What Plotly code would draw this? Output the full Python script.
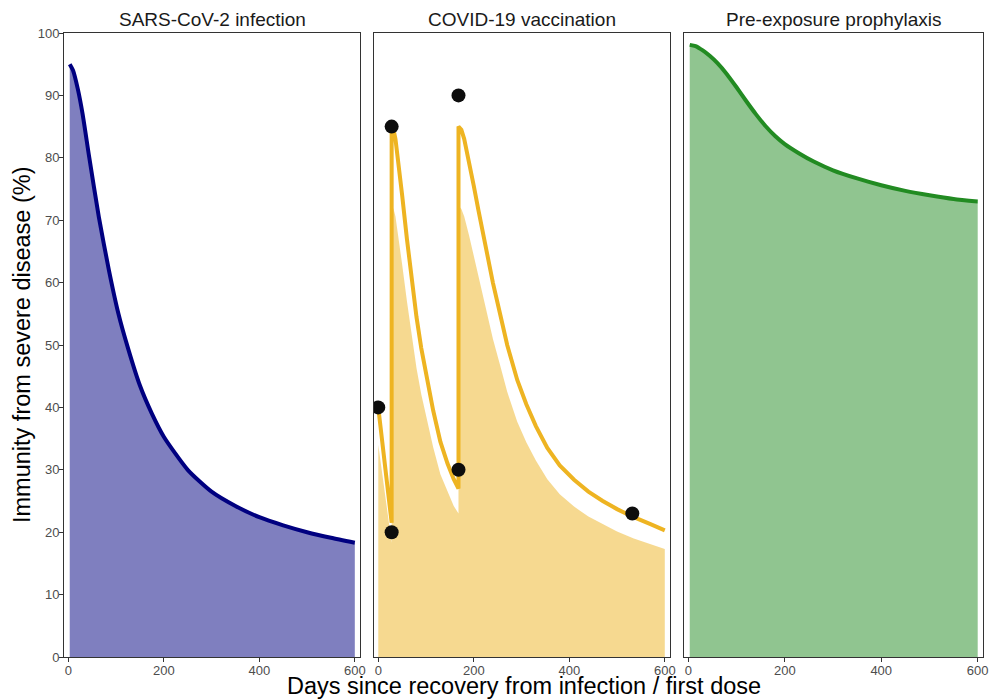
import plotly.graph_objects as go

# ---------------- data ----------------
inf_days = [3, 10, 20, 30, 44, 64, 85, 105, 125, 150, 175, 200, 250, 300, 350, 400, 450, 500, 550, 600]
inf_vals = [95, 94, 91, 87, 80, 70.5, 62, 55, 49.5, 43.5, 39, 35.3, 30, 26.5, 24.2, 22.4, 21.1, 20.0, 19.1, 18.3]

vac_days = [0, 14, 28,
            28, 32, 36, 42, 50, 60, 71, 80, 90, 103, 115, 130, 145, 158, 168,
            168, 174, 180, 190, 200, 210, 225, 240, 255, 270, 291, 310, 330, 354, 380, 410, 440, 470, 500, 535, 570, 600]
vac_line = [40, 30.5, 21.5,
            85, 84.5, 83, 79.5, 74, 67, 60, 54.5, 49.5, 44, 39.5, 34.5, 31, 28.5, 27,
            85, 84.5, 83, 79.5, 75.5, 71.5, 65.5, 60, 55, 50, 44.4, 40.5, 37, 33.5, 30.7, 28.4, 26.5, 25.0, 23.7, 22.4, 21.3, 20.3]
vac_fill = [34, 26, 18.3,
            72.3, 71.8, 70.6, 67.6, 62.9, 57.0, 51.0, 46.3, 42.1, 37.4, 33.6, 29.3, 26.4, 24.2, 23.0,
            72.3, 71.8, 70.6, 67.6, 64.2, 60.8, 55.7, 51.0, 46.8, 42.5, 37.7, 34.4, 31.5, 28.5, 26.1, 24.1, 22.5, 21.3, 20.1, 19.0, 18.1, 17.3]

dose_days = [0, 28, 28, 168, 168, 532]
dose_vals = [40, 20, 85, 90, 30, 23]

prep_days = [3, 15, 30, 45, 60, 80, 100, 120, 140, 160, 180, 200, 230, 260, 300, 350, 400, 450, 500, 550, 600]
prep_vals = [98.1, 97.9, 97.2, 96.3, 95.2, 93.4, 91.3, 89.1, 87.0, 85.1, 83.5, 82.2, 80.7, 79.4, 78.0, 76.7, 75.6, 74.7, 74.0, 73.4, 73.0]

panel_titles = ["SARS-CoV-2 infection", "COVID-19 vaccination", "Pre-exposure prophylaxis"]
x_ticks = [0, 200, 400, 600]
y_ticks = [0, 10, 20, 30, 40, 50, 60, 70, 80, 90, 100]

FONT = "Liberation Sans, Arial, sans-serif"

fig = go.Figure()

# Panel 1
fig.add_trace(go.Scatter(x=inf_days, y=inf_vals, mode="lines", fill="tozeroy",
                         fillcolor="rgba(0,0,128,0.5)", line=dict(width=0, shape="spline", smoothing=0.6),
                         xaxis="x", yaxis="y", hoverinfo="skip"))
fig.add_trace(go.Scatter(x=inf_days, y=inf_vals, mode="lines",
                         line=dict(color="#000080", width=4, shape="spline", smoothing=0.6),
                         xaxis="x", yaxis="y"))

# Panel 2
fig.add_trace(go.Scatter(x=vac_days, y=vac_fill, mode="lines", fill="tozeroy",
                         fillcolor="rgba(238,180,34,0.5)", line=dict(width=0),
                         xaxis="x2", yaxis="y2", hoverinfo="skip"))
fig.add_trace(go.Scatter(x=vac_days, y=vac_line, mode="lines",
                         line=dict(color="#EEB422", width=4),
                         xaxis="x2", yaxis="y2"))
fig.add_trace(go.Scatter(x=dose_days, y=dose_vals, mode="markers",
                         marker=dict(color="#0d0d0d", size=14),
                         xaxis="x2", yaxis="y2"))

# Panel 3
fig.add_trace(go.Scatter(x=prep_days, y=prep_vals, mode="lines", fill="tozeroy",
                         fillcolor="rgba(34,139,34,0.5)", line=dict(width=0, shape="spline", smoothing=0.6),
                         xaxis="x3", yaxis="y3", hoverinfo="skip"))
fig.add_trace(go.Scatter(x=prep_days, y=prep_vals, mode="lines",
                         line=dict(color="#228B22", width=4, shape="spline", smoothing=0.6),
                         xaxis="x3", yaxis="y3"))

L, R = 64, 5
W = 994.0 - L - R
px = [(64, 362), (376, 674), (688, 989)]
domains = [[(a - L) / W, min(1.0, (b - L) / W)] for a, b in px]

axis_common = dict(showline=True, mirror=True, linecolor="#333333", linewidth=1,
                   showgrid=False, zeroline=False, ticks="outside", ticklen=4,
                   tickcolor="#333333", tickwidth=1, ticklabelstandoff=-3,
                   tickfont=dict(family=FONT, size=13, color="#4d4d4d"))

layout = dict(
    width=994, height=699,
    margin=dict(l=L, r=R, t=33, b=42),
    plot_bgcolor="white", paper_bgcolor="white",
    showlegend=False,
    font=dict(family=FONT),
)
for i in range(3):
    sx = "" if i == 0 else str(i + 1)
    layout["xaxis" + sx] = dict(axis_common, domain=domains[i], range=[-9, 611],
                                tickvals=x_ticks, anchor="y" + sx)
    yax = dict(axis_common, domain=[0, 1], range=[0, 100], tickvals=y_ticks, anchor="x" + sx)
    if i > 0:
        yax.update(showticklabels=False, ticks="")
    layout["yaxis" + sx] = yax

annotations = []
for i, t in enumerate(panel_titles):
    annotations.append(dict(text=t, x=(domains[i][0] + domains[i][1]) / 2, y=1,
                            xref="paper", yref="paper", xanchor="center", yanchor="middle",
                            yshift=14, showarrow=False,
                            font=dict(family=FONT, size=19, color="#1a1a1a")))
annotations.append(dict(text="Days since recovery from infection / first dose",
                        x=0.5, y=0, xref="paper", yref="paper", xanchor="center", yanchor="middle",
                        yshift=-29, showarrow=False,
                        font=dict(family=FONT, size=23.5, color="black")))
annotations.append(dict(text="Immunity from severe disease (%)",
                        x=0, y=0.5, xref="paper", yref="paper", xanchor="center", yanchor="middle",
                        xshift=-42, textangle=-90, showarrow=False,
                        font=dict(family=FONT, size=23.5, color="black")))
layout["annotations"] = annotations

fig.update_layout(**layout)
fig.write_html("out.html")
